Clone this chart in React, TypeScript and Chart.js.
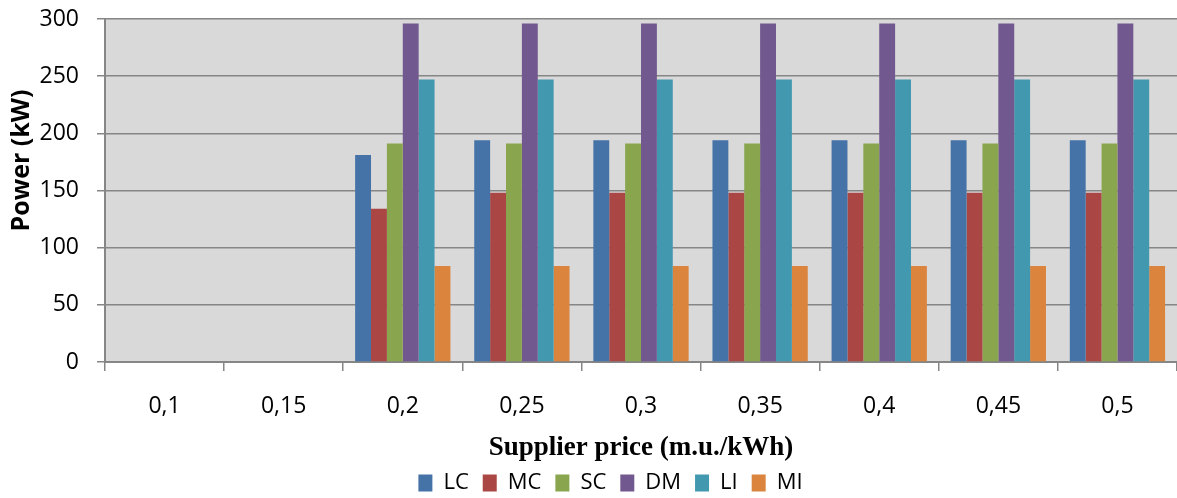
import React, { useEffect, useRef } from "react";
import { Chart, registerables } from "chart.js";

Chart.register(...registerables);

const categories = ["0,1", "0,15", "0,2", "0,25", "0,3", "0,35", "0,4", "0,45", "0,5"];
const seriesNames = ["LC", "MC", "SC", "DM", "LI", "MI"];
const lcValues = [0, 0, 181, 194, 194, 194, 194, 194, 194];
const mcValues = [0, 0, 134, 148, 148, 148, 148, 148, 148];
const scValues = [0, 0, 191, 191, 191, 191, 191, 191, 191];
const dmValues = [0, 0, 296, 296, 296, 296, 296, 296, 296];
const liValues = [0, 0, 247, 247, 247, 247, 247, 247, 247];
const miValues = [0, 0, 84, 84, 84, 84, 84, 84, 84];
const yTicks = [0, 50, 100, 150, 200, 250, 300];
const seriesColors = ["#4572A7", "#AA4643", "#89A54E", "#71588F", "#4198AF", "#DB843D"];

const yTitle = "Power (kW)";
const xTitle = "Supplier price (m.u./kWh)";

export default function App() {
  const ref = useRef<HTMLCanvasElement | null>(null);

  useEffect(() => {
    document.body.style.margin = "0";
    const canvas = ref.current;
    if (!canvas) return;
    const allValues = [lcValues, mcValues, scValues, dmValues, liValues, miValues];

    const bgPlugin = {
      id: "plotBg",
      beforeDraw(chart: any) {
        const { ctx, chartArea } = chart;
        ctx.save();
        ctx.fillStyle = "#ffffff";
        ctx.fillRect(0, 0, chart.width, chart.height);
        ctx.fillStyle = "#D9D9D9";
        ctx.fillRect(chartArea.left, chartArea.top, chartArea.right - chartArea.left, chartArea.bottom - chartArea.top);
        ctx.restore();
      },
      afterLayout(chart: any) {
        const lg = chart.legend;
        if (lg) {
          lg.left += 22;
          lg.right += 22;
        }
      },
      afterDraw(chart: any) {
        const { ctx, chartArea } = chart;
        ctx.save();
        ctx.translate(22, (chartArea.top + chartArea.bottom) / 2 - 30);
        ctx.rotate(-Math.PI / 2);
        ctx.font = "bold 25px 'Open Sans'";
        ctx.fillStyle = "#000000";
        ctx.textAlign = "center";
        ctx.textBaseline = "middle";
        ctx.fillText(yTitle, 0, 0);
        ctx.restore();
      },
    };

    const chart = new Chart(canvas, {
      type: "bar",
      data: {
        labels: categories,
        datasets: seriesNames.map((name, i) => ({
          label: name,
          data: allValues[i],
          backgroundColor: seriesColors[i],
          borderWidth: 0,
          categoryPercentage: 0.8,
          barPercentage: 1.0,
        })),
      },
      options: {
        animation: false,
        responsive: false,
        maintainAspectRatio: false,
        layout: { padding: { top: 19, left: 0, right: 0, bottom: -6 } },
        plugins: {
          legend: {
            position: "bottom",
            labels: {
              boxWidth: 14,
              boxHeight: 17,
              padding: 14,
              color: "#000000",
              font: { family: "'Open Sans'", size: 22 },
            },
          },
          tooltip: { enabled: false },
          title: { display: false },
        },
        scales: {
          x: {
            offset: true,
            grid: {
              display: true,
              offset: true,
              drawOnChartArea: false,
              drawTicks: true,
              tickLength: 9,
              color: "#868686",
              lineWidth: 1.5,
            },
            border: { display: true, color: "#868686", width: 2 },
            ticks: {
              color: "#000000",
              padding: 22,
              maxRotation: 0,
              font: { family: "'Open Sans'", size: 23 },
            },
            title: {
              display: true,
              text: xTitle,
              color: "#000000",
              font: { family: "'Liberation Serif'", size: 27, weight: "bold", lineHeight: 1.2 },
              padding: { top: 0, bottom: -6 },
            },
            afterFit(scale: any) {
              scale.height = 96;
              scale.paddingLeft = 0;
              scale.paddingRight = 0;
            },
          },
          y: {
            min: 0,
            max: 300,
            afterBuildTicks(scale: any) {
              scale.ticks = yTicks.map((v) => ({ value: v }));
            },
            grid: {
              color: "#868686",
              lineWidth: 1.5,
              drawTicks: true,
              tickLength: 8,
            },
            border: { display: true, color: "#868686", width: 2 },
            ticks: {
              color: "#000000",
              padding: 18,
              font: { family: "'Open Sans'", size: 23 },
            },
            afterFit(scale: any) {
              scale.width = 105;
              scale.paddingTop = 0;
              scale.paddingBottom = 0;
            },
          },
        },
      },
      plugins: [bgPlugin],
    });
    return () => chart.destroy();
  }, []);

  return (
    <div style={{ position: "absolute", left: 0, top: 0, width: 1177, height: 498 }}>
      <canvas ref={ref} width={1177} height={498} style={{ width: 1177, height: 498 }} />
    </div>
  );
}
